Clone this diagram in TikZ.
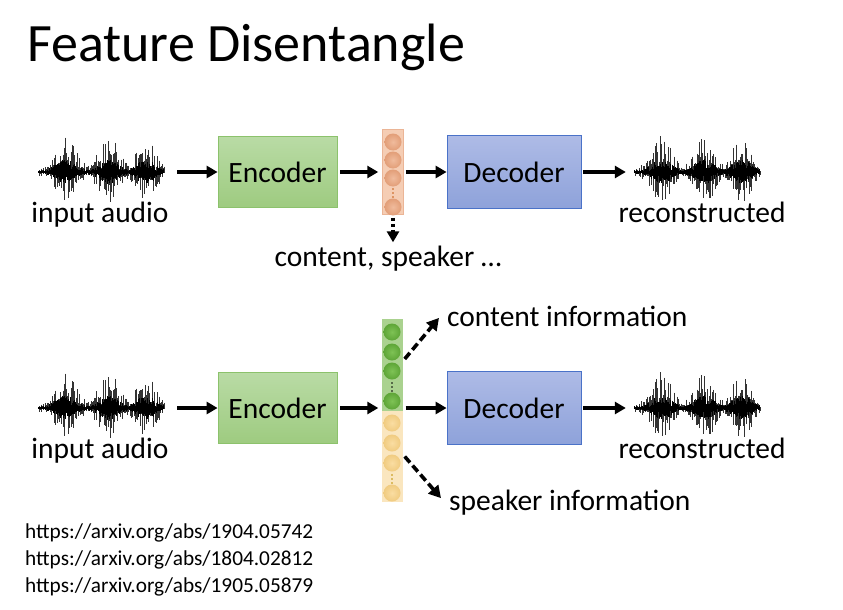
\documentclass[tikz,border=0pt]{standalone}
\usepackage{fontspec}
\setmainfont{Carlito}
\usetikzlibrary{arrows.meta,calc}

\definecolor{encTop}{HTML}{B9DBA5}
\definecolor{encBot}{HTML}{9ECB80}
\definecolor{encLine}{HTML}{8CC26C}
\definecolor{decTop}{HTML}{AEBBE6}
\definecolor{decBot}{HTML}{8EA2DA}
\definecolor{decLine}{HTML}{4A72C8}
\definecolor{peachCol}{HTML}{F5CDB4}
\definecolor{peachLine}{HTML}{EBB596}
\definecolor{peachIn}{HTML}{F0BB9C}
\definecolor{peachOut}{HTML}{E29E78}
\definecolor{peachDot}{HTML}{C55A11}
\definecolor{greenCol}{HTML}{AAD28F}
\definecolor{greenIn}{HTML}{7EC255}
\definecolor{greenOut}{HTML}{5EA537}
\definecolor{yellowCol}{HTML}{FAE6BF}
\definecolor{yellowIn}{HTML}{FADDA2}
\definecolor{yellowOut}{HTML}{F0CB80}
\definecolor{yellowDot}{HTML}{BF8F00}

% sound-wave strokes, drawn from the left end of the trace (origin) rightwards
\newcommand\wavelines[1]{%
  \pgfmathsetseed{#1}%
  \foreach \k in {0,...,250}{%
    \pgfmathsetmacro\xx{1+\k*0.5}%
    \pgfmathsetmacro\env{0.12+0.88*max(exp(-((\xx-28)/13)^2),max(exp(-((\xx-71)/13)^2),exp(-((\xx-108)/12)^2)))}%
    \pgfmathsetmacro\up{\env*(3+34*rnd^2.5)}%
    \pgfmathsetmacro\dn{\env*(3+29*rnd^2.5)}%
    \pgfmathsetmacro\cu{\env*(2+11*rnd)}%
    \pgfmathsetmacro\cd{\env*(2+10*rnd)}%
    \draw[line width=0.6pt, black!80] (\xx,-\up) -- (\xx,\dn);
    \draw[line width=0.9pt, black] (\xx,-\cu) -- (\xx,\cd);
  }%
  \draw[line width=2.4pt] (1,0) -- (126,0);
}

\tikzset{
  x=1pt, y=-1pt,
  lbl/.style={font=\fontsize{29.5}{32}\selectfont, inner sep=0pt},
  wavebox/.style={minimum width=127pt, minimum height=70pt, inner sep=0pt},
  encbox/.style={draw=encLine, line width=0.8pt, top color=encTop, bottom color=encBot,
    minimum width=119pt, minimum height=71pt, inner sep=0pt, lbl},
  decbox/.style={draw=decLine, line width=0.8pt, top color=decTop, bottom color=decBot,
    minimum width=134pt, minimum height=73pt, inner sep=0pt, lbl},
  column/.style={minimum width=21pt, inner sep=0pt},
  cell/.style={circle, minimum size=17pt, inner sep=0pt},
  arr/.style={line width=3.2pt, -{Triangle[length=11pt,width=12pt]}},
  dotarr/.style={line width=3.2pt, dash pattern=on 3pt off 3pt, -{Triangle[length=11pt,width=12pt]}},
  dasharr/.style={line width=3.6pt, dash pattern=on 8pt off 4pt, -{Triangle[length=12pt,width=13pt]}},
}

\begin{document}
\begin{tikzpicture}
\useasboundingbox (0,0) rectangle (843,610);

\node[anchor=base west, inner sep=0pt, font=\fontsize{54}{58}\selectfont] (title) at (27,62) {Feature Disentangle};

% ---------- plain auto-encoder ----------
\node[wavebox] (win1) at (101.5,172) {};
\begin{scope}[shift={(win1.west)}]\wavelines{11}\end{scope}
\node[lbl, anchor=base] (lin1) at (100,222) {input audio};
\node[encbox] (enc1) at (277.5,172) {Encoder};
\node[column, minimum height=85pt, fill=peachCol, draw=peachLine, line width=0.5pt] (vec1) at (393,172) {};
\foreach \cy/\nm in {142/a,160/b,178/c,207/d}
  \node[cell, inner color=peachIn, outer color=peachOut] (v1\nm) at (393,\cy) {};
\foreach \dy in {-4,0,4}
  \fill[peachDot] (393,193+\dy) circle (0.9pt);
\node[decbox] (dec1) at (514,172) {Decoder};
\node[wavebox] (wout1) at (697.5,172) {};
\begin{scope}[shift={(wout1.west)}]\wavelines{23}\end{scope}
\node[lbl, anchor=base] (lout1) at (702,222) {reconstructed};
\node[lbl, anchor=base] (lat1) at (388,266) {content, speaker …};

\draw[arr] ([xshift=12pt]win1.east) -- (enc1.west);
\draw[arr] ([xshift=3pt]enc1.east) -- ([xshift=-4pt]vec1.west);
\draw[arr] ([xshift=2pt]vec1.east) -- (dec1.west);
\draw[arr] ([xshift=2pt]dec1.east) -- ([xshift=-8pt]wout1.west);
\draw[dotarr] ([yshift=-3pt]vec1.south) -- ([yshift=3pt]vec1.south |- lat1.north);

% ---------- disentangled auto-encoder ----------
\node[wavebox] (win2) at (101.5,408) {};
\begin{scope}[shift={(win2.west)}]\wavelines{11}\end{scope}
\node[lbl, anchor=base] (lin2) at (100,458) {input audio};
\node[encbox] (enc2) at (277.5,408) {Encoder};
\node[column, minimum height=92pt, fill=greenCol] (vec2g) at (392,365) {};
\node[column, minimum height=91pt, fill=yellowCol] (vec2y) at (392,456.5) {};
\foreach \cy/\nm in {332/a,352/b,371/c,401/d}
  \node[cell, inner color=greenIn, outer color=greenOut] (v2\nm) at (392,\cy) {};
\foreach \dy in {-4,0,4}
  \fill[black] (392,387+\dy) circle (0.9pt);
\foreach \cy/\nm in {423/a,443/b,463/c,493/d}
  \node[cell, inner color=yellowIn, outer color=yellowOut] (v3\nm) at (392,\cy) {};
\foreach \dy in {-4,0,4}
  \fill[yellowDot] (392,479+\dy) circle (0.9pt);
\node[decbox] (dec2) at (514,408) {Decoder};
\node[wavebox] (wout2) at (697.5,408) {};
\begin{scope}[shift={(wout2.west)}]\wavelines{23}\end{scope}
\node[lbl, anchor=base] (lout2) at (702,458) {reconstructed};
\node[lbl, anchor=base west] (cinfo) at (447,326) {content information};
\node[lbl, anchor=base west] (sinfo) at (449,510) {speaker information};

\draw[arr] ([xshift=12pt]win2.east) -- (enc2.west);
\draw[arr] ([xshift=3pt]enc2.east) -- ([xshift=-3pt,yshift=-43pt]vec2g.west);
\draw[arr] ([xshift=3pt,yshift=-43pt]vec2g.east) -- (dec2.west);
\draw[arr] ([xshift=2pt]dec2.east) -- ([xshift=-8pt]wout2.west);
\draw[dasharr] ([xshift=2pt,yshift=6pt]vec2g.east) -- ([xshift=-8pt,yshift=-2pt]cinfo.west);
\draw[dasharr] ([xshift=2pt,yshift=0pt]vec2y.east) -- ([xshift=-8pt,yshift=4pt]sinfo.west);

% ---------- references ----------
\begin{scope}[every node/.style={anchor=base west, inner sep=0pt, font=\fontsize{21.3}{23}\selectfont}]
  \node (ref1) at (25,538) {https://arxiv.org/abs/1904.05742};
  \node (ref2) at (25,565) {https://arxiv.org/abs/1804.02812};
  \node (ref3) at (25,592) {https://arxiv.org/abs/1905.05879};
\end{scope}
\end{tikzpicture}
\end{document}
